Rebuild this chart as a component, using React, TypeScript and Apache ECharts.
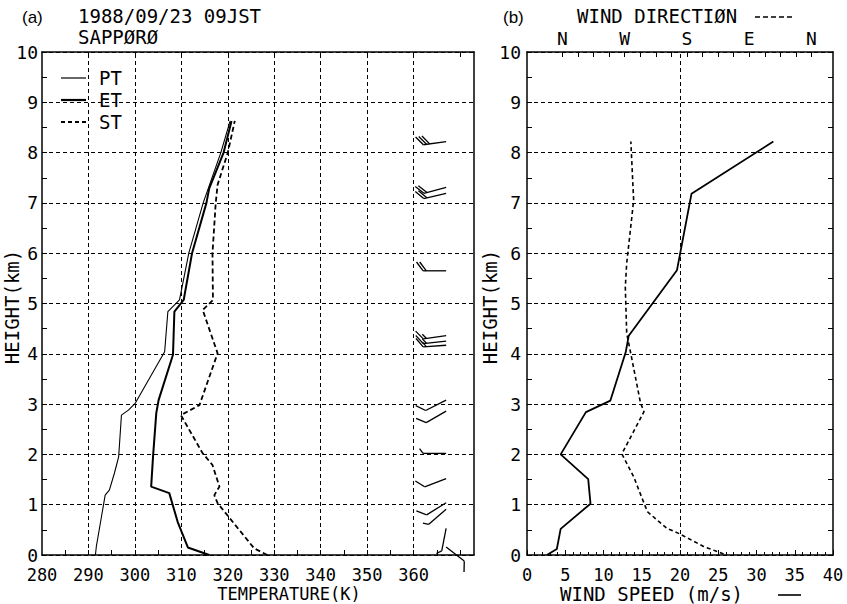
import React, { useEffect, useRef } from "react";
import * as echarts from "echarts";

// ---- Panel (a): temperature profiles (K) vs height (km)
const ptH = [0, 0.17, 0.76, 1.19, 1.29, 1.63, 1.95, 2.78, 2.88, 3.02, 4.04, 4.84, 5.07, 6.0, 7.0, 8.0, 8.63];
const ptV = [291.5, 291.7, 292.8, 293.6, 294.5, 295.6, 296.5, 297.1, 298.6, 300.1, 306.4, 307.1, 309.6, 311.6, 314.7, 318.5, 320.5];
const etH = [0, 0.15, 0.66, 1.23, 1.36, 1.95, 2.82, 3.08, 3.98, 4.84, 5.07, 6.0, 7.0, 7.29, 8.0, 8.63];
const etV = [316.0, 311.4, 309.2, 307.4, 303.5, 303.9, 304.6, 305.1, 308.2, 308.5, 310.5, 312.3, 315.4, 316.0, 319.1, 320.8];
const stH = [0, 0.13, 1.03, 1.19, 1.36, 1.79, 2.02, 2.78, 2.98, 4.01, 4.87, 5.07, 6.0, 7.0, 7.36, 8.0, 8.63];
const stV = [328.5, 325.7, 317.8, 317.1, 318.2, 316.7, 314.6, 309.9, 313.9, 317.8, 314.6, 316.8, 316.7, 317.4, 317.8, 320.0, 321.5];

const legendNames = ["PT", "ET", "ST"];

// wind barbs drawn in panel (a)
const BARB_T = 367;
const barbH = [8.22, 7.31, 7.19, 5.65, 4.36, 4.25, 4.17, 3.08, 2.86, 2.02, 1.52, 1.04, 0.91, 0.53, 0.16];
const barbDir = [262, 255, 257, 270, 262, 264, 266, 243, 240, 270, 249, 238, 229, 191, 128];
const barbSpd = [32, 22, 21, 20, 14, 13, 13, 11, 8, 4.5, 8, 8, 7, 4.5, 10];

const tempLabelValues = [280, 290, 300, 310, 320, 330, 340, 350, 360];
const tempGrid = [290, 300, 310, 320, 330, 340, 350, 360];

// ---- Panel (b): wind speed (m/s) and wind direction (deg)
const speedH = [0, 0.12, 0.52, 1.02, 1.51, 2.0, 2.84, 3.07, 4.03, 4.36, 5.66, 7.18, 8.22];
const speedV = [2.6, 3.9, 4.4, 8.3, 8.0, 4.4, 7.7, 10.9, 12.9, 13.3, 19.6, 21.5, 32.2];
const dirH = [0.02, 0.17, 0.43, 0.53, 0.86, 1.03, 1.56, 2.01, 2.85, 3.02, 4.0, 4.41, 5.33, 5.8, 6.79, 7.06, 8.22];
const dirV = [127, 156, 192, 209, 237, 242, 257, 274, 242, 247, 261, 267, 269, 267, 259, 257, 261];

const dirLabelValues = [0, 90, 180, 270, 360];
const dirLabelNames = ["N", "E", "S", "W", "N"];

const MONO = "'DejaVu Sans Mono', 'Liberation Mono', monospace";
const SANS = "'Liberation Sans', Arial, sans-serif";
const BLACK = "#000";

const pairs = (xs: number[], ys: number[]) => xs.map((x, i) => [x, ys[i]]);
const range = (a: number, b: number, s: number) => {
  const r: number[] = [];
  for (let v = a; v <= b + 1e-9; v += s) r.push(+v.toFixed(3));
  return r;
};

const dashed = { type: [4, 3] as any, color: BLACK, width: 1 };

function barbRender(params: any, api: any) {
  const h = api.value(1);
  const dir = api.value(2);
  const spd = api.value(3);
  const p = api.coord([api.value(0), h]);
  const th = (dir * Math.PI) / 180;
  const ux = Math.sin(th);
  const uy = -Math.cos(th);
  const L = 23;
  const tip = [p[0] + ux * L, p[1] + uy * L];
  const px = -uy;
  const py = ux;
  const fx = px * 0.8 + ux * 0.6;
  const fy = py * 0.8 + uy * 0.6;
  const style = { stroke: BLACK, lineWidth: 1.3 };
  const children: any[] = [
    { type: "line", shape: { x1: p[0], y1: p[1], x2: tip[0], y2: tip[1] }, style },
  ];
  let units = Math.round(spd / 5);
  let k = 0;
  while (units > 0) {
    const len = units >= 2 ? 11 : 6;
    units -= units >= 2 ? 2 : 1;
    const bx = tip[0] - ux * 3.2 * k;
    const by = tip[1] - uy * 3.2 * k;
    children.push({
      type: "line",
      shape: { x1: bx, y1: by, x2: bx + fx * len, y2: by + fy * len },
      style,
    });
    k++;
  }
  return { type: "group", children };
}

const txt = (text: string, x: number, y: number, font: string, size: number, extra: any = {}) => ({
  type: "text",
  x,
  y,
  ...extra,
  style: {
    text,
    fontFamily: font,
    fontSize: size,
    fill: BLACK,
    textVerticalAlign: "middle",
    verticalAlign: "middle",
    ...(extra.center ? { textAlign: "center", align: "center" } : {}),
  },
});

export default function App() {
  const ref = useRef<HTMLDivElement>(null);

  useEffect(() => {
    if (!ref.current) return;
    const chart = echarts.init(ref.current, undefined, { renderer: "svg" });

    const axisLabelStyle = { fontFamily: MONO, fontSize: 17, color: BLACK };
    const axisLine = { show: true, onZero: false, lineStyle: { color: BLACK, width: 1.5 } };
    const legendStyles = [
      { stroke: BLACK, lineWidth: 1.2 },
      { stroke: BLACK, lineWidth: 2.2 },
      { stroke: BLACK, lineWidth: 1.8, lineDash: [4, 3] },
    ];
    const legendY = [78, 100, 122];

    const option: any = {
      animation: false,
      backgroundColor: "#fff",
      textStyle: { fontFamily: MONO, color: BLACK },
      grid: [
        { left: 42, top: 52, width: 432, height: 503 },
        { left: 527, top: 52, width: 306, height: 503 },
      ],
      xAxis: [
        {
          gridIndex: 0,
          type: "value",
          position: "bottom",
          min: 280,
          max: 373,
          axisLine,
          axisTick: { show: true, inside: true, length: 5, customValues: range(285, 370, 5), lineStyle: { color: BLACK } },
          axisLabel: { ...axisLabelStyle, margin: 11, customValues: tempLabelValues },
          splitLine: { show: false },
        },
        {
          gridIndex: 0,
          type: "value",
          position: "top",
          min: 280,
          max: 373,
          axisLine,
          axisTick: { show: true, inside: true, length: 5, customValues: range(290, 370, 10), lineStyle: { color: BLACK } },
          axisLabel: { show: false },
          splitLine: { show: false },
        },
        {
          gridIndex: 1,
          type: "value",
          position: "bottom",
          min: 0,
          max: 40,
          interval: 5,
          axisLine,
          axisTick: { show: true, inside: true, length: 5, lineStyle: { color: BLACK } },
          minorTick: { show: true, splitNumber: 5, length: 3, lineStyle: { color: BLACK } },
          axisLabel: { ...axisLabelStyle, margin: 11 },
          splitLine: { show: false },
        },
        {
          gridIndex: 1,
          type: "value",
          position: "top",
          min: -31,
          max: 411,
          inverse: true,
          axisLine,
          axisTick: { show: true, inside: true, length: 5, customValues: range(0, 360, 22.5), lineStyle: { color: BLACK } },
          axisLabel: {
            ...axisLabelStyle,
            fontSize: 18,
            margin: 5,
            customValues: dirLabelValues,
            formatter: (v: number) => dirLabelNames[dirLabelValues.indexOf(v)] ?? "",
          },
          splitLine: { show: false },
        },
      ],
      yAxis: [
        {
          gridIndex: 0,
          type: "value",
          position: "left",
          min: 0,
          max: 10,
          interval: 1,
          axisLine,
          axisTick: { show: true, inside: true, length: 5, lineStyle: { color: BLACK } },
          minorTick: { show: true, splitNumber: 2, length: 5, lineStyle: { color: BLACK } },
          axisLabel: { ...axisLabelStyle, fontSize: 18, margin: 4 },
          splitLine: { show: true, lineStyle: dashed },
        },
        {
          gridIndex: 0,
          type: "value",
          position: "right",
          min: 0,
          max: 10,
          interval: 1,
          axisLine,
          axisTick: { show: false },
          axisLabel: { show: false },
          splitLine: { show: false },
        },
        {
          gridIndex: 1,
          type: "value",
          position: "left",
          min: 0,
          max: 10,
          interval: 1,
          axisLine,
          axisTick: { show: true, inside: true, length: 5, lineStyle: { color: BLACK } },
          minorTick: { show: true, splitNumber: 2, length: 5, lineStyle: { color: BLACK } },
          axisLabel: { ...axisLabelStyle, fontSize: 18, margin: 6 },
          splitLine: { show: true, lineStyle: dashed },
        },
        {
          gridIndex: 1,
          type: "value",
          position: "right",
          min: 0,
          max: 10,
          interval: 1,
          axisLine,
          axisTick: { show: true, inside: true, length: 5, lineStyle: { color: BLACK } },
          minorTick: { show: true, splitNumber: 2, length: 5, lineStyle: { color: BLACK } },
          axisLabel: { show: false },
          splitLine: { show: false },
        },
      ],
      series: [
        {
          name: "PT",
          type: "line",
          xAxisIndex: 0,
          yAxisIndex: 0,
          data: pairs(ptV, ptH),
          symbol: "none",
          lineStyle: { color: BLACK, width: 1.1 },
          markLine: {
            silent: true,
            symbol: "none",
            label: { show: false },
            lineStyle: dashed,
            data: tempGrid.map((v) => ({ xAxis: v })),
          },
        },
        {
          name: "ET",
          type: "line",
          xAxisIndex: 0,
          yAxisIndex: 0,
          data: pairs(etV, etH),
          symbol: "none",
          lineStyle: { color: BLACK, width: 2 },
        },
        {
          name: "ST",
          type: "line",
          xAxisIndex: 0,
          yAxisIndex: 0,
          data: pairs(stV, stH),
          symbol: "none",
          lineStyle: { color: BLACK, width: 1.8, type: [5, 3] },
        },
        {
          name: "barbs",
          type: "custom",
          xAxisIndex: 0,
          yAxisIndex: 0,
          clip: false,
          data: barbH.map((h, i) => [BARB_T, h, barbDir[i], barbSpd[i]]),
          renderItem: barbRender,
          silent: true,
        },
        {
          name: "Wind speed",
          type: "line",
          xAxisIndex: 2,
          yAxisIndex: 2,
          data: pairs(speedV, speedH),
          symbol: "none",
          lineStyle: { color: BLACK, width: 1.8 },
          markLine: {
            silent: true,
            symbol: "none",
            label: { show: false },
            lineStyle: dashed,
            data: [{ xAxis: 20 }],
          },
        },
        {
          name: "Wind direction",
          type: "line",
          xAxisIndex: 3,
          yAxisIndex: 2,
          data: pairs(dirV, dirH),
          symbol: "none",
          lineStyle: { color: BLACK, width: 1.6, type: [4, 3] },
        },
      ],
      graphic: [
        txt("(a)", 22, 17, SANS, 17),
        txt("1988/09/23 09JST", 78, 16, MONO, 19),
        txt("SAPPØRØ", 78, 37, MONO, 19),
        txt("(b)", 503, 17, SANS, 17),
        txt("WIND DIRECTIØN", 577, 16, MONO, 19),
        { type: "line", shape: { x1: 755, y1: 17, x2: 793, y2: 17 }, style: { stroke: BLACK, lineWidth: 1.5, lineDash: [5, 3] } },
        ...legendNames.map((n, i) => ({
          type: "line",
          shape: { x1: 61, y1: legendY[i], x2: 86, y2: legendY[i] },
          style: legendStyles[i],
        })),
        ...legendNames.map((n, i) => txt(n, 99, legendY[i], MONO, 19)),
        txt("TEMPERATURE(K)", 289, 594, MONO, 17, { center: true }),
        txt("WIND SPEED (m/s)", 560, 594, MONO, 19),
        { type: "line", shape: { x1: 778, y1: 595, x2: 801, y2: 595 }, style: { stroke: BLACK, lineWidth: 1.6 } },
        txt("HEIGHT(km)", 12, 307, MONO, 19, { rotation: Math.PI / 2, center: true }),
        txt("HEIGHT(km)", 490, 307, MONO, 19, { rotation: Math.PI / 2, center: true }),
      ],
    };

    chart.setOption(option);
    return () => chart.dispose();
  }, []);

  return (
    <div
      ref={ref}
      style={{ position: "absolute", left: 0, top: 0, width: 847, height: 604, background: "#fff" }}
    />
  );
}
